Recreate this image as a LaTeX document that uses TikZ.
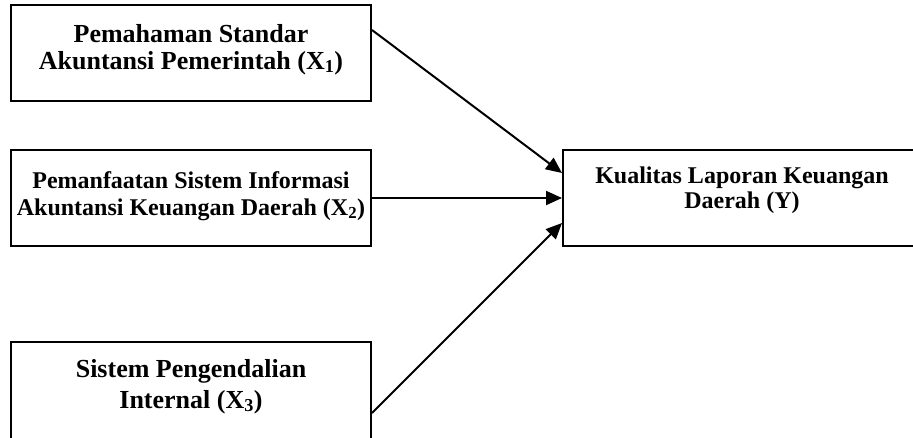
\documentclass[tikz,border=0pt]{standalone}
\usepackage{fontspec}
\setmainfont{Liberation Serif}
\usetikzlibrary{arrows.meta}
\begin{document}
\begin{tikzpicture}[x=1pt,y=-1pt,
  box/.style={draw,line width=2pt,inner sep=0pt},
  big/.style={anchor=base,inner sep=0pt,font=\fontsize{26}{30}\selectfont\bfseries},
  small/.style={anchor=base,inner sep=0pt,font=\fontsize{24}{28}\selectfont\bfseries},
  arr/.style={line width=2pt,-{Triangle[length=16pt,width=14pt]}}]
\useasboundingbox (0,0) rectangle (913,437);
\node[box,minimum width=360pt,minimum height=96pt] (x1) at (191,53) {};
\node[box,minimum width=360pt,minimum height=96pt] (x2) at (191,198) {};
\node[box,minimum width=360pt,minimum height=100pt] (x3) at (191,392) {};
\node[box,minimum width=358pt,minimum height=96pt] (y) at (742,198) {};
\node[big] (t1a) at (191,42) {Pemahaman Standar};
\node[big] (t1b) at (191,69) {Akuntansi Pemerintah (X\textsubscript{1})};
\node[small] (t2a) at (191,188) {Pemanfaatan Sistem Informasi};
\node[small] (t2b) at (191,215) {Akuntansi Keuangan Daerah (X\textsubscript{2})};
\node[big] (t3a) at (191,377) {Sistem Pengendalian};
\node[big] (t3b) at (191,408) {Internal (X\textsubscript{3})};
\node[small] (tya) at (742,183) {Kualitas Laporan Keuangan};
\node[small] (tyb) at (742,208) {Daerah (Y)};
\draw[arr] ([yshift=23pt]x1.east) -- ([yshift=25pt]y.west);
\draw[arr] (x2.east) -- (y.west);
\draw[arr] ([yshift=-21pt]x3.east) -- ([yshift=-25pt]y.west);
\end{tikzpicture}
\end{document}
